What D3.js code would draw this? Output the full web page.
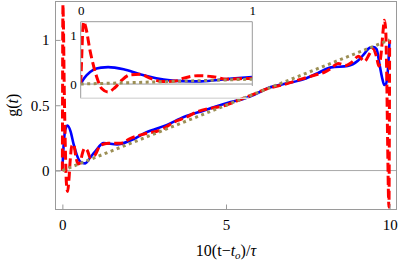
<!DOCTYPE html>
<html>
<head>
<meta charset="utf-8">
<script src="https://cdn.jsdelivr.net/npm/d3@7"></script>
<style>
  body { margin: 0; background: #fff; }
  svg { display: block; font-family: "Liberation Serif", "Times New Roman", serif; }
</style>
</head>
<body>
<svg id="chart" width="399" height="262"></svg>
<script>
// values
const blueX = [0, 0.015, 0.035, 0.073, 0.12, 0.16, 0.25, 0.345, 0.44, 0.52, 0.6, 0.7, 0.85, 1.0, 1.26, 1.67, 2.08, 2.54, 3.2, 3.71, 4.33, 5.14, 5.55, 5.86, 6.27, 6.8, 7.39, 7.8, 8.21, 8.72, 9.03, 9.23, 9.39, 9.5, 9.6, 9.7, 9.78, 9.835, 9.88, 9.93, 9.97, 10.0];
const blueY = [0, 0.09, 0.18, 0.29, 0.335, 0.345, 0.30, 0.20, 0.12, 0.075, 0.06, 0.055, 0.10, 0.145, 0.21, 0.20, 0.23, 0.29, 0.35, 0.41, 0.46, 0.525, 0.55, 0.58, 0.63, 0.665, 0.70, 0.745, 0.79, 0.80, 0.84, 0.895, 0.94, 0.945, 0.93, 0.80, 0.70, 0.655, 0.66, 0.72, 0.86, 1.0];

const redX = [0, 0.006, 0.012, 0.018, 0.03, 0.054, 0.093, 0.122, 0.16, 0.2, 0.24, 0.29, 0.345, 0.41, 0.48, 0.55, 0.6, 0.68, 0.77, 0.85, 0.93, 1.0, 1.15, 1.4, 1.8, 2.07, 2.5, 3.0, 3.4, 3.8, 4.12, 4.6, 5.0, 5.4, 5.8, 6.3, 6.8, 7.3, 7.7, 8.03, 8.25, 8.42, 8.67, 8.85, 9.05, 9.23, 9.39, 9.49, 9.6, 9.67, 9.75, 9.8, 9.84, 9.88, 9.91, 9.94, 9.965, 9.98, 9.99, 10.0];
const redY = [0, 0.55, 1.1, 1.27, 1.15, 0.69, 0.15, -0.09, -0.16, -0.07, 0.08, 0.19, 0.2, 0.11, 0.05, 0.06, 0.12, 0.17, 0.15, 0.10, 0.11, 0.12, 0.19, 0.21, 0.21, 0.245, 0.28, 0.31, 0.37, 0.41, 0.45, 0.48, 0.50, 0.54, 0.58, 0.63, 0.66, 0.70, 0.73, 0.755, 0.79, 0.82, 0.805, 0.83, 0.875, 0.835, 0.895, 0.93, 0.87, 0.80, 0.92, 1.07, 1.15, 1.08, 0.75, 0.2, -0.2, -0.28, 0.2, 1.0];

const oliveX = [0, 10];
const oliveY = [0, 1];

const xTicks = [0, 5, 10];
const yTicks = [0, 0.5, 1];
const insetXTicks = [0, 1];
const insetYTicks = [0, 1];

const zip = (xs, ys) => xs.map((v, i) => [v, ys[i]]);
const series = [
  { data: zip(blueX, blueY), color: '#0000ff', width: 2.6, dash: null },
  { data: zip(redX, redY), color: '#ff0000', width: 3, dash: '9,4' },
  { data: zip(oliveX, oliveY), color: '#9c8f55', width: 3, dash: '3,3.5' }
];

const svg = d3.select('#chart');
const frameGray = '#9a9a9a';
const fmt = d3.format('~g');

// main plot
const x = d3.scaleLinear().domain([-0.21, 10.21]).range([55.5, 396.5]);
const y = d3.scaleLinear().domain([-0.298, 1.294]).range([209.5, 1.5]);

svg.append('clipPath').attr('id', 'mainClip')
  .append('rect')
  .attr('x', x.range()[0]).attr('y', y.range()[1])
  .attr('width', x.range()[1] - x.range()[0])
  .attr('height', y.range()[0] - y.range()[1]);

svg.append('line')
  .attr('x1', x.range()[0]).attr('x2', x.range()[1])
  .attr('y1', y(0)).attr('y2', y(0))
  .attr('stroke', '#a8a8a8').attr('stroke-width', 1);

const line = d3.line().x(d => x(d[0])).y(d => y(d[1])).curve(d3.curveMonotoneX);

const mainG = svg.append('g').attr('clip-path', 'url(#mainClip)');
series.forEach(s => {
  mainG.append('path')
    .attr('d', line(s.data))
    .attr('fill', 'none')
    .attr('stroke', s.color)
    .attr('stroke-width', s.width)
    .attr('stroke-dasharray', s.dash);
});

svg.append('rect')
  .attr('x', x.range()[0]).attr('y', y.range()[1])
  .attr('width', x.range()[1] - x.range()[0])
  .attr('height', y.range()[0] - y.range()[1])
  .attr('fill', 'none').attr('stroke', frameGray).attr('stroke-width', 1);

const yAxis = svg.append('g')
  .attr('transform', `translate(${x.range()[0]},0)`)
  .call(d3.axisLeft(y).tickValues(yTicks).tickFormat(fmt).tickSize(-5).tickPadding(6));

const xAxis = svg.append('g')
  .attr('transform', `translate(0,${y.range()[0]})`)
  .call(d3.axisBottom(x).tickValues(xTicks).tickFormat(fmt).tickSize(-5).tickPadding(10));

[yAxis, xAxis].forEach(g => {
  g.select('.domain').remove();
  g.selectAll('.tick line').attr('stroke', frameGray);
  g.selectAll('.tick text')
    .attr('fill', '#000')
    .style('font-size', '15px')
    .style('font-family', '"Liberation Serif", serif');
});

// axis titles
const xTitle = svg.append('text')
  .attr('x', x(5)).attr('y', 256)
  .attr('text-anchor', 'middle')
  .style('font-size', '16px');
xTitle.append('tspan').text('10(t\u2212');
xTitle.append('tspan').attr('font-style', 'italic').text('t');
xTitle.append('tspan').attr('font-style', 'italic').attr('dy', 3).style('font-size', '11px').text('o');
xTitle.append('tspan').attr('dy', -3).text(')/');
xTitle.append('tspan').attr('font-style', 'italic').text('\u03c4');

const yTitle = svg.append('text')
  .attr('transform', `translate(18,${y(0.5)}) rotate(-90)`)
  .attr('text-anchor', 'middle')
  .style('font-size', '16px');
yTitle.append('tspan').text('g(');
yTitle.append('tspan').attr('font-style', 'italic').text('t');
yTitle.append('tspan').text(')');

// inset
const xi = d3.scaleLinear().domain([0, 1]).range([80.7, 252.3]);
const yi = d3.scaleLinear().domain([-0.29, 1.27]).range([98.3, 21.7]);

const inset = svg.append('g');
inset.append('rect')
  .attr('x', xi(0)).attr('y', yi.range()[1])
  .attr('width', xi(1) - xi(0))
  .attr('height', yi(-0.04) - yi.range()[1])
  .attr('fill', '#fff');

svg.append('clipPath').attr('id', 'insetClip')
  .append('rect')
  .attr('x', xi(0)).attr('y', yi.range()[1])
  .attr('width', xi(1) - xi(0))
  .attr('height', yi.range()[0] - yi.range()[1]);

inset.append('line')
  .attr('x1', xi(0)).attr('x2', xi(1))
  .attr('y1', yi(0)).attr('y2', yi(0))
  .attr('stroke', frameGray).attr('stroke-width', 1);

const lineI = d3.line().x(d => xi(d[0])).y(d => yi(d[1])).curve(d3.curveMonotoneX);
const insetCurves = inset.append('g').attr('clip-path', 'url(#insetClip)');
series.forEach(s => {
  insetCurves.append('path')
    .attr('d', lineI(s.data))
    .attr('fill', 'none')
    .attr('stroke', s.color)
    .attr('stroke-width', s.width)
    .attr('stroke-dasharray', s.dash);
});

// inset frame: top, left, right (partial), light bottom
inset.append('path')
  .attr('d', `M${xi(0)},${yi.range()[0]}V${yi.range()[1]}H${xi(1)}V${yi(-0.04)}`)
  .attr('fill', 'none').attr('stroke', frameGray).attr('stroke-width', 1);
inset.append('line')
  .attr('x1', xi(0)).attr('x2', xi(0.98))
  .attr('y1', yi.range()[0]).attr('y2', yi.range()[0])
  .attr('stroke', '#dcdcdc').attr('stroke-width', 1.5);

const insetTop = inset.append('g')
  .attr('transform', `translate(0,${yi.range()[1]})`)
  .call(d3.axisTop(xi).tickValues(insetXTicks).tickFormat(fmt).tickSize(0).tickPadding(7));
const insetLeft = inset.append('g')
  .attr('transform', `translate(${xi(0)},0)`)
  .call(d3.axisLeft(yi).tickValues(insetYTicks).tickFormat(fmt).tickSize(0).tickPadding(4));

[insetTop, insetLeft].forEach(g => {
  g.select('.domain').remove();
  g.selectAll('.tick text')
    .attr('fill', '#000')
    .style('font-size', '13px')
    .style('font-family', '"Liberation Serif", serif');
});
</script>
</body>
</html>
